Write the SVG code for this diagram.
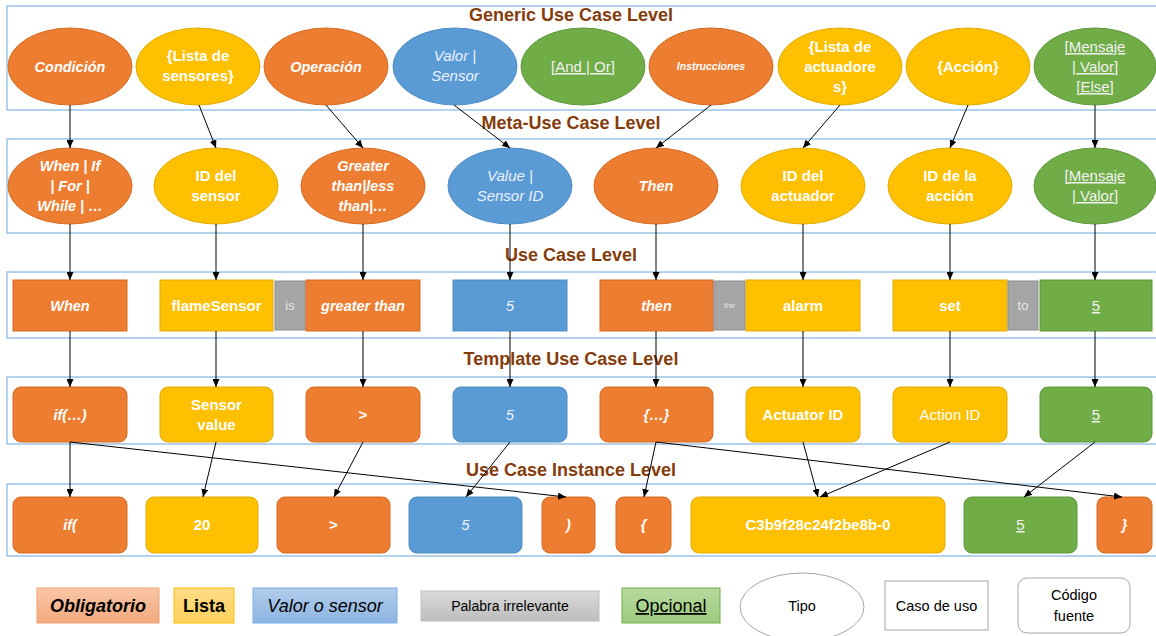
<svg xmlns="http://www.w3.org/2000/svg" width="1156" height="636" viewBox="0 0 1156 636">
<defs>
<marker id="ah" viewBox="0 0 8 7" refX="8" refY="3.5" markerWidth="8" markerHeight="7" markerUnits="userSpaceOnUse" orient="auto"><path d="M0,0 L8,3.5 L0,7 z" fill="#000"/></marker>
<linearGradient id="gO" x1="0" y1="0" x2="0" y2="1"><stop offset="0" stop-color="#F8C6A6"/><stop offset="1" stop-color="#F4A97E"/></linearGradient>
<linearGradient id="gY" x1="0" y1="0" x2="0" y2="1"><stop offset="0" stop-color="#FFDC88"/><stop offset="1" stop-color="#FFD15A"/></linearGradient>
<linearGradient id="gB" x1="0" y1="0" x2="0" y2="1"><stop offset="0" stop-color="#B2CDEB"/><stop offset="1" stop-color="#8CB5E2"/></linearGradient>
<linearGradient id="gG" x1="0" y1="0" x2="0" y2="1"><stop offset="0" stop-color="#DADADA"/><stop offset="1" stop-color="#BDBDBD"/></linearGradient>
<linearGradient id="gV" x1="0" y1="0" x2="0" y2="1"><stop offset="0" stop-color="#B7DA9F"/><stop offset="1" stop-color="#9CCB7E"/></linearGradient>
</defs>
<style>
.band{fill:none;stroke:#9DC3E6;stroke-width:1.5}
.title{font-family:"Liberation Sans",Arial,sans-serif;font-weight:bold;font-size:18px;fill:#843C0C;text-anchor:middle}
.o{fill:#ED7D31;stroke:#D46A22;stroke-width:1}
.y{fill:#FFC000;stroke:#E0AC00;stroke-width:1}
.b{fill:#5B9BD5;stroke:#4F8CC4;stroke-width:1}
.g{fill:#70AD47;stroke:#5F973B;stroke-width:1}
.gr{fill:#A5A5A5;stroke:#8A8A8A;stroke-width:1}
.t{font-family:"Liberation Sans",Arial,sans-serif;font-size:15px;fill:#FFFFFF;text-anchor:middle}
.bi{font-weight:bold;font-style:italic;font-size:14.5px}
.bd{font-weight:bold}
.it{font-style:italic;fill:#EAF1F9}
.u{text-decoration:underline;fill:#F2F2F2}
.sm{fill:#E6E6E6;font-size:13px}
.lg{font-family:"Liberation Sans",Arial,sans-serif;fill:#000;text-anchor:middle}
.conn line{stroke:#000;stroke-width:1;marker-end:url(#ah)}
.wb{fill:#FFFFFF;stroke:#A6A6A6;stroke-width:1}
</style>

<!-- bands -->
<g id="bands">
<rect class="band" x="7" y="6" width="1160" height="104"/>
<rect class="band" x="7" y="139" width="1160" height="94"/>
<rect class="band" x="7" y="272" width="1160" height="66"/>
<rect class="band" x="7" y="377" width="1160" height="67"/>
<rect class="band" x="7" y="484" width="1160" height="72"/>
</g>
<g id="titles">
<text class="title" x="571" y="21">Generic Use Case Level</text>
<text class="title" x="571" y="129">Meta-Use Case Level</text>
<text class="title" x="571" y="261">Use Case Level</text>
<text class="title" x="571" y="365">Template Use Case Level</text>
<text class="title" x="571" y="476">Use Case Instance Level</text>
</g>

<!-- Generic level -->
<g id="g-condicion"><ellipse class="o" cx="70" cy="66.5" rx="62" ry="38.5"/><text class="t bi" x="70" y="72">Condición</text></g>
<g id="g-lista-sensores"><ellipse class="y" cx="198" cy="66.5" rx="62" ry="38.5"/><text class="t bd" x="198" y="61">{Lista de</text><text class="t bd" x="198" y="81">sensores}</text></g>
<g id="g-operacion"><ellipse class="o" cx="326" cy="66.5" rx="62" ry="38.5"/><text class="t bi" x="326" y="72">Operación</text></g>
<g id="g-valor-sensor"><ellipse class="b" cx="455" cy="66.5" rx="62" ry="38.5"/><text class="t it" x="455" y="61">Valor |</text><text class="t it" x="455" y="81">Sensor</text></g>
<g id="g-and-or"><ellipse class="g" cx="583" cy="66.5" rx="62" ry="38.5"/><text class="t u" x="583" y="72">[And | Or]</text></g>
<g id="g-instrucciones"><ellipse class="o" cx="711" cy="66.5" rx="62" ry="38.5"/><text class="t bi" style="font-size:10.5px" x="711" y="70">Instrucciones</text></g>
<g id="g-lista-actuadores"><ellipse class="y" cx="840" cy="66.5" rx="62" ry="38.5"/><text class="t bd" x="840" y="52">{Lista de</text><text class="t bd" x="840" y="72">actuadore</text><text class="t bd" x="840" y="92">s}</text></g>
<g id="g-accion"><ellipse class="y" cx="968" cy="66.5" rx="62" ry="38.5"/><text class="t bd" x="968" y="72">{Acción}</text></g>
<g id="g-mensaje"><ellipse class="g" cx="1095" cy="66.5" rx="61" ry="38.5"/><text class="t u" x="1095" y="52">[Mensaje</text><text class="t u" x="1095" y="72">| Valor]</text><text class="t u" x="1095" y="92">[Else]</text></g>

<!-- Meta level -->
<g id="m-when"><ellipse class="o" cx="70" cy="186" rx="62" ry="38"/><text class="t bi" x="70" y="171">When | If</text><text class="t bi" x="70" y="191">| For |</text><text class="t bi" x="70" y="211">While | …</text></g>
<g id="m-id-sensor"><ellipse class="y" cx="216" cy="186" rx="62" ry="38"/><text class="t bd" x="216" y="181">ID del</text><text class="t bd" x="216" y="201">sensor</text></g>
<g id="m-greater"><ellipse class="o" cx="363" cy="186" rx="62" ry="38"/><text class="t bi" x="363" y="171">Greater</text><text class="t bi" x="363" y="191">than|less</text><text class="t bi" x="363" y="211">than|…</text></g>
<g id="m-value"><ellipse class="b" cx="510" cy="186" rx="62" ry="38"/><text class="t it" x="510" y="181">Value |</text><text class="t it" x="510" y="201">Sensor ID</text></g>
<g id="m-then"><ellipse class="o" cx="656" cy="186" rx="62" ry="38"/><text class="t bi" x="656" y="191">Then</text></g>
<g id="m-id-actuador"><ellipse class="y" cx="803" cy="186" rx="62" ry="38"/><text class="t bd" x="803" y="181">ID del</text><text class="t bd" x="803" y="201">actuador</text></g>
<g id="m-id-accion"><ellipse class="y" cx="950" cy="186" rx="62" ry="38"/><text class="t bd" x="950" y="181">ID de la</text><text class="t bd" x="950" y="201">acción</text></g>
<g id="m-mensaje"><ellipse class="g" cx="1095" cy="186" rx="61" ry="38"/><text class="t u" x="1095" y="181">[Mensaje</text><text class="t u" x="1095" y="201">| Valor]</text></g>

<!-- Use case level -->
<g id="u-when"><rect class="o" x="13" y="280" width="114" height="51"/><text class="t bi" x="70" y="311">When</text></g>
<g id="u-flame"><rect class="y" x="160" y="280" width="113" height="51"/><text class="t bd" x="216.5" y="311">flameSensor</text></g>
<g id="u-is"><rect class="gr" x="275" y="281" width="30" height="49"/><text class="t sm" x="290" y="310">is</text></g>
<g id="u-greater"><rect class="o" x="306" y="280" width="114" height="51"/><text class="t bi" x="363" y="311">greater than</text></g>
<g id="u-5"><rect class="b" x="453" y="280" width="114" height="51"/><text class="t it" x="510" y="311">5</text></g>
<g id="u-then"><rect class="o" x="600" y="280" width="113" height="51"/><text class="t bi" x="656.5" y="311">then</text></g>
<g id="u-the"><rect class="gr" x="714" y="281" width="31" height="49"/><text class="t sm" style="font-size:8px" x="729.5" y="308">the</text></g>
<g id="u-alarm"><rect class="y" x="746" y="280" width="114" height="51"/><text class="t bd" x="803" y="311">alarm</text></g>
<g id="u-set"><rect class="y" x="893" y="280" width="114" height="51"/><text class="t bd" x="950" y="311">set</text></g>
<g id="u-to"><rect class="gr" x="1008" y="281" width="30" height="49"/><text class="t sm" x="1023" y="310">to</text></g>
<g id="u-5g"><rect class="g" x="1040" y="280" width="112" height="51"/><text class="t u" x="1096" y="311">5</text></g>

<!-- Template level -->
<g id="t-if"><rect class="o" x="13" y="387" width="114" height="55" rx="8"/><text class="t bi" x="70" y="420">if(…)</text></g>
<g id="t-sensor"><rect class="y" x="160" y="387" width="113" height="55" rx="8"/><text class="t bd" x="216.5" y="410">Sensor</text><text class="t bd" x="216.5" y="430">value</text></g>
<g id="t-gt"><rect class="o" x="306" y="387" width="114" height="55" rx="8"/><text class="t bd" x="363" y="420">&gt;</text></g>
<g id="t-5"><rect class="b" x="453" y="387" width="114" height="55" rx="8"/><text class="t it" x="510" y="420">5</text></g>
<g id="t-block"><rect class="o" x="600" y="387" width="113" height="55" rx="8"/><text class="t bi" x="656.5" y="420">{…}</text></g>
<g id="t-actuator"><rect class="y" x="746" y="387" width="114" height="55" rx="8"/><text class="t bd" x="803" y="420">Actuator ID</text></g>
<g id="t-action"><rect class="y" x="893" y="387" width="114" height="55" rx="8"/><text class="t" x="950" y="420">Action ID</text></g>
<g id="t-5g"><rect class="g" x="1040" y="387" width="112" height="55" rx="8"/><text class="t u" x="1096" y="420">5</text></g>

<!-- Instance level -->
<g id="i-if"><rect class="o" x="13" y="497" width="114" height="56" rx="8"/><text class="t bi" x="70" y="530">if(</text></g>
<g id="i-20"><rect class="y" x="146" y="497" width="112" height="56" rx="8"/><text class="t bd" x="202" y="530">20</text></g>
<g id="i-gt"><rect class="o" x="277" y="497" width="113" height="56" rx="8"/><text class="t bd" x="333.5" y="530">&gt;</text></g>
<g id="i-5"><rect class="b" x="409" y="497" width="113" height="56" rx="8"/><text class="t it" x="465.5" y="530">5</text></g>
<g id="i-close"><rect class="o" x="542" y="497" width="53" height="56" rx="8"/><text class="t bi" x="568.5" y="530">)</text></g>
<g id="i-open"><rect class="o" x="616" y="497" width="55" height="56" rx="8"/><text class="t bi" x="643.5" y="530">{</text></g>
<g id="i-id"><rect class="y" x="691" y="497" width="254" height="56" rx="8"/><text class="t bd" x="818" y="530">C3b9f28c24f2be8b-0</text></g>
<g id="i-5g"><rect class="g" x="964" y="497" width="113" height="56" rx="8"/><text class="t u" x="1020.5" y="530">5</text></g>
<g id="i-brace"><rect class="o" x="1097" y="497" width="55" height="56" rx="8"/><text class="t bi" x="1124.5" y="530">}</text></g>

<!-- connectors -->
<g id="connectors" class="conn">
<line x1="70" y1="105" x2="70" y2="148"/>
<line x1="199" y1="105" x2="216" y2="148"/>
<line x1="326" y1="105" x2="363" y2="148"/>
<line x1="454" y1="105" x2="510" y2="148"/>
<line x1="711" y1="105" x2="656" y2="148"/>
<line x1="840" y1="105" x2="803" y2="148"/>
<line x1="968" y1="105" x2="950" y2="148"/>
<line x1="1095" y1="105" x2="1095" y2="148"/>

<line x1="70" y1="224" x2="70" y2="280"/>
<line x1="216" y1="224" x2="216" y2="280"/>
<line x1="363" y1="224" x2="363" y2="280"/>
<line x1="510" y1="224" x2="510" y2="280"/>
<line x1="656" y1="224" x2="656" y2="280"/>
<line x1="803" y1="224" x2="803" y2="280"/>
<line x1="950" y1="224" x2="950" y2="280"/>
<line x1="1095" y1="224" x2="1095" y2="280"/>

<line x1="70" y1="331" x2="70" y2="387"/>
<line x1="216" y1="331" x2="216" y2="387"/>
<line x1="363" y1="331" x2="363" y2="387"/>
<line x1="510" y1="331" x2="510" y2="387"/>
<line x1="656" y1="331" x2="656" y2="387"/>
<line x1="803" y1="331" x2="803" y2="387"/>
<line x1="950" y1="331" x2="950" y2="387"/>
<line x1="1095" y1="331" x2="1095" y2="387"/>

<line x1="70" y1="442" x2="70" y2="497"/>
<line x1="70" y1="442" x2="566" y2="497"/>
<line x1="216" y1="442" x2="203" y2="497"/>
<line x1="363" y1="442" x2="334" y2="497"/>
<line x1="510" y1="442" x2="466" y2="497"/>
<line x1="656" y1="442" x2="644" y2="497"/>
<line x1="656" y1="442" x2="1122" y2="497"/>
<line x1="803" y1="442" x2="818" y2="497"/>
<line x1="950" y1="442" x2="820" y2="497"/>
<line x1="1095" y1="442" x2="1024" y2="497"/>
</g>

<!-- legend -->
<g id="legend-obligatorio"><rect x="37" y="588" width="122" height="35" fill="url(#gO)" stroke="#F0A16E" stroke-width="1"/><text class="lg" style="font-weight:bold;font-style:italic;font-size:18px" x="98" y="612">Obligatorio</text></g>
<g id="legend-lista"><rect x="174" y="588" width="60" height="35" fill="url(#gY)" stroke="#FFC000" stroke-width="1"/><text class="lg" style="font-weight:bold;font-size:18px" x="204" y="612">Lista</text></g>
<g id="legend-valor"><rect x="253" y="588" width="144" height="35" fill="url(#gB)" stroke="#7CAEE4" stroke-width="1"/><text class="lg" style="font-style:italic;font-size:18px" x="325" y="612">Valor o sensor</text></g>
<g id="legend-palabra"><rect x="421" y="591" width="178" height="30" fill="url(#gG)" stroke="#BFBFBF" stroke-width="1"/><text class="lg" style="font-size:14px" x="510" y="611">Palabra irrelevante</text></g>
<g id="legend-opcional"><rect x="622" y="588" width="98" height="35" fill="url(#gV)" stroke="#70AD47" stroke-width="1"/><text class="lg" style="font-size:18px;text-decoration:underline" x="671" y="612">Opcional</text></g>
<g id="legend-tipo"><ellipse class="wb" cx="802" cy="607" rx="62" ry="34"/><text class="lg" style="font-size:14.5px" x="802" y="611">Tipo</text></g>
<g id="legend-caso"><rect class="wb" x="885" y="581" width="103" height="49"/><text class="lg" style="font-size:14.5px" x="936.5" y="611">Caso de uso</text></g>
<g id="legend-codigo"><rect class="wb" x="1018" y="578" width="112" height="55" rx="9"/><text class="lg" style="font-size:14.5px" x="1074" y="600">Código</text><text class="lg" style="font-size:14.5px" x="1074" y="621">fuente</text></g>
</svg>
